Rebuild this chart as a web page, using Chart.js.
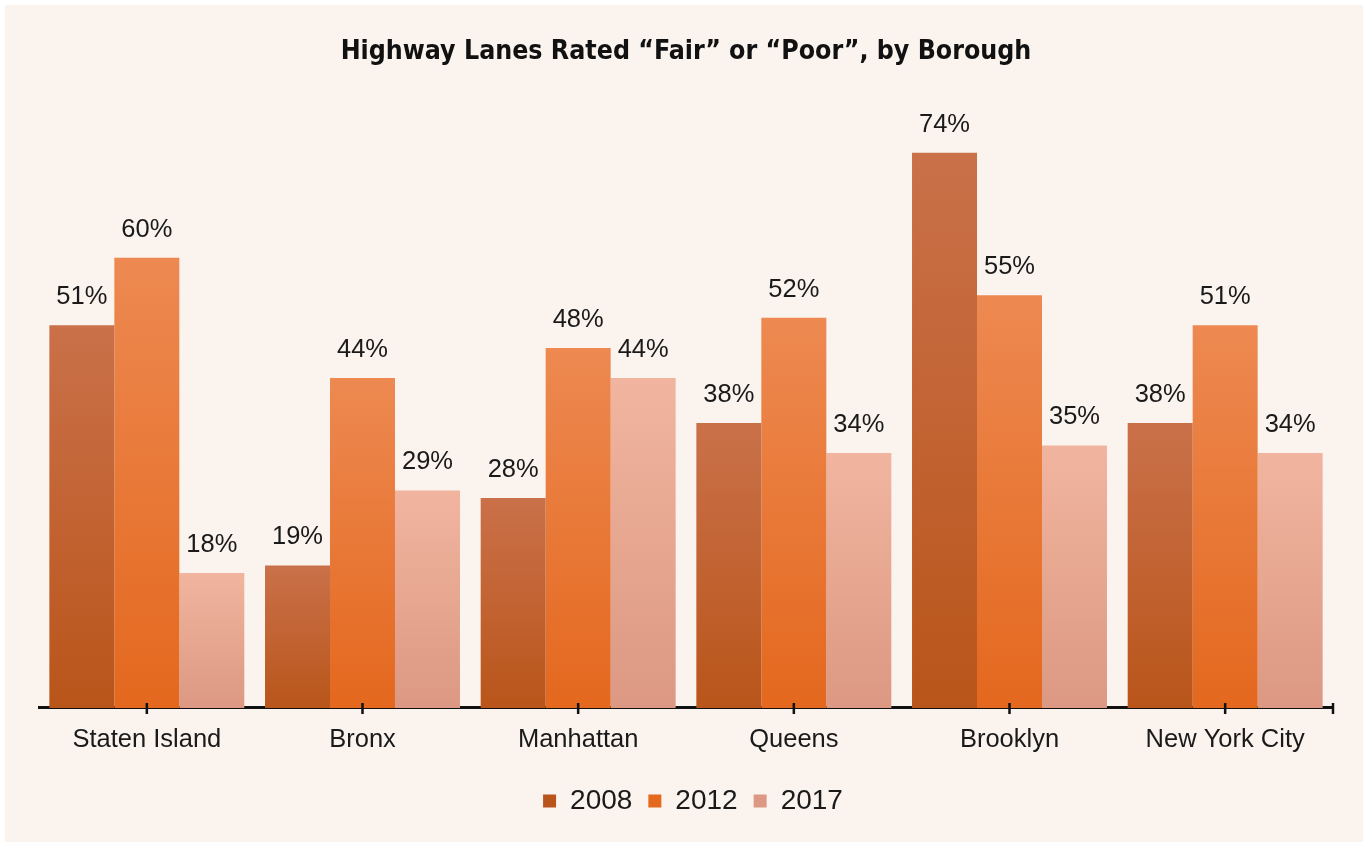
<!DOCTYPE html>
<html>
<head>
<meta charset="utf-8">
<title>Highway Lanes Rated “Fair” or “Poor”, by Borough</title>
<script src="https://cdn.jsdelivr.net/npm/chart.js@4/dist/chart.umd.min.js"></script>
<style>
  html, body { margin: 0; padding: 0; background: #ffffff; }
  #wrap { width: 1363px; height: 842px; position: relative; }
</style>
</head>
<body>
<div id="wrap"><canvas id="chart"></canvas></div>
<script>
// Share of highway lanes rated "fair" or "poor" (percent)
const boroughs = ['Staten Island', 'Bronx', 'Manhattan', 'Queens', 'Brooklyn', 'New York City'];
const years = ['2008', '2012', '2017'];
const share2008 = [51, 19, 28, 38, 74, 38];
const share2012 = [60, 44, 48, 52, 55, 51];
const share2017 = [18, 29, 44, 34, 35, 34];
const titleText = 'Highway Lanes Rated “Fair” or “Poor”, by Borough';

const textColor = '#1a1a1a';
const bodyFont = "'Liberation Sans', Arial, sans-serif";

// Vertical gradient per bar: lighter at the top, deeper at the base
function barFill(topColor, bottomColor, flatColor) {
  return (ctx) => {
    if (ctx.type !== 'data') return flatColor;
    const chart = ctx.chart;
    const yScale = chart.scales.y;
    if (!chart.chartArea || !yScale || !ctx.parsed) return flatColor;
    const yTop = yScale.getPixelForValue(ctx.parsed.y);
    const yBase = yScale.getPixelForValue(0);
    if (!isFinite(yTop) || !isFinite(yBase) || yTop === yBase) return flatColor;
    const g = chart.ctx.createLinearGradient(0, yTop, 0, yBase);
    g.addColorStop(0, topColor);
    g.addColorStop(1, bottomColor);
    return g;
  };
}

// Page background: thin white edge on top/left, warm beige panel
const panelBackground = {
  id: 'panelBackground',
  beforeDraw(chart) {
    const { ctx, width, height } = chart;
    ctx.save();
    ctx.fillStyle = '#ffffff';
    ctx.fillRect(0, 0, width, height);
    ctx.fillStyle = '#faf3ee';
    ctx.fillRect(5, 5, width - 5, height - 5);
    ctx.restore();
  }
};

// Nudge the legend row slightly right of the plot's centre
const legendShift = {
  id: 'legendShift',
  afterLayout(chart) {
    if (chart.legend) {
      chart.legend.left += 7;
      chart.legend.right += 7;
    }
  }
};

// Percent labels above each bar
const valueLabels = {
  id: 'valueLabels',
  afterDatasetsDraw(chart) {
    const { ctx } = chart;
    ctx.save();
    ctx.font = `25.5px ${bodyFont}`;
    ctx.fillStyle = textColor;
    ctx.textAlign = 'center';
    ctx.textBaseline = 'middle';
    chart.data.datasets.forEach((ds, di) => {
      const meta = chart.getDatasetMeta(di);
      meta.data.forEach((bar, i) => {
        ctx.fillText(ds.data[i] + '%', bar.x, bar.y - 28);
      });
    });
    ctx.restore();
  }
};

// Tick marks crossing the category axis, plus a closing tick at its right end
const axisTicks = {
  id: 'axisTicks',
  afterDraw(chart) {
    const { ctx, chartArea } = chart;
    const x = chart.scales.x;
    const y0 = chartArea.bottom;
    ctx.save();
    ctx.strokeStyle = '#111111';
    ctx.lineWidth = 2.5;
    ctx.beginPath();
    const positions = x.ticks.map((t, i) => x.getPixelForTick(i));
    positions.push(chartArea.right);
    positions.forEach((px) => {
      ctx.moveTo(px, y0 - 5);
      ctx.lineTo(px, y0 + 6);
    });
    ctx.stroke();
    ctx.restore();
  }
};

new Chart(document.getElementById('chart'), {
  type: 'bar',
  data: {
    labels: boroughs,
    datasets: [
      {
        label: years[0],
        data: share2008,
        backgroundColor: barFill('#ca714a', '#b9551a', '#c3632f')
      },
      {
        label: years[1],
        data: share2012,
        backgroundColor: barFill('#ed8951', '#e4681e', '#ea7632')
      },
      {
        label: years[2],
        data: share2017,
        backgroundColor: barFill('#f1b59f', '#dc9882', '#eeaa92')
      }
    ]
  },
  options: {
    responsive: true,
    maintainAspectRatio: false,
    animation: false,
    layout: { padding: { left: 39, right: 30, top: 0, bottom: 17 } },
    datasets: {
      bar: { categoryPercentage: 0.904, barPercentage: 1.0, borderWidth: 0 }
    },
    scales: {
      x: {
        offset: true,
        grid: { display: false, drawTicks: false, offset: false },
        border: { display: true, color: '#111111', width: 3 },
        ticks: {
          color: textColor,
          padding: 4,
          font: { family: bodyFont, size: 25.5, lineHeight: 2.157 },
          maxRotation: 0,
          autoSkip: false
        }
      },
      y: {
        display: false,
        min: 0,
        max: 80
      }
    },
    plugins: {
      title: {
        display: true,
        text: titleText,
        color: '#111111',
        font: { family: "'DejaVu Sans Condensed', 'Liberation Sans Narrow', sans-serif", size: 26.5, weight: 'bold', lineHeight: 1.2 },
        padding: { top: 36, bottom: 40 }
      },
      legend: {
        display: true,
        position: 'bottom',
        labels: {
          color: textColor,
          boxWidth: 13,
          boxHeight: 13,
          padding: 16,
          font: { family: bodyFont, size: 28 }
        }
      },
      tooltip: { enabled: false }
    }
  },
  plugins: [panelBackground, legendShift, valueLabels, axisTicks]
});
</script>
</body>
</html>
